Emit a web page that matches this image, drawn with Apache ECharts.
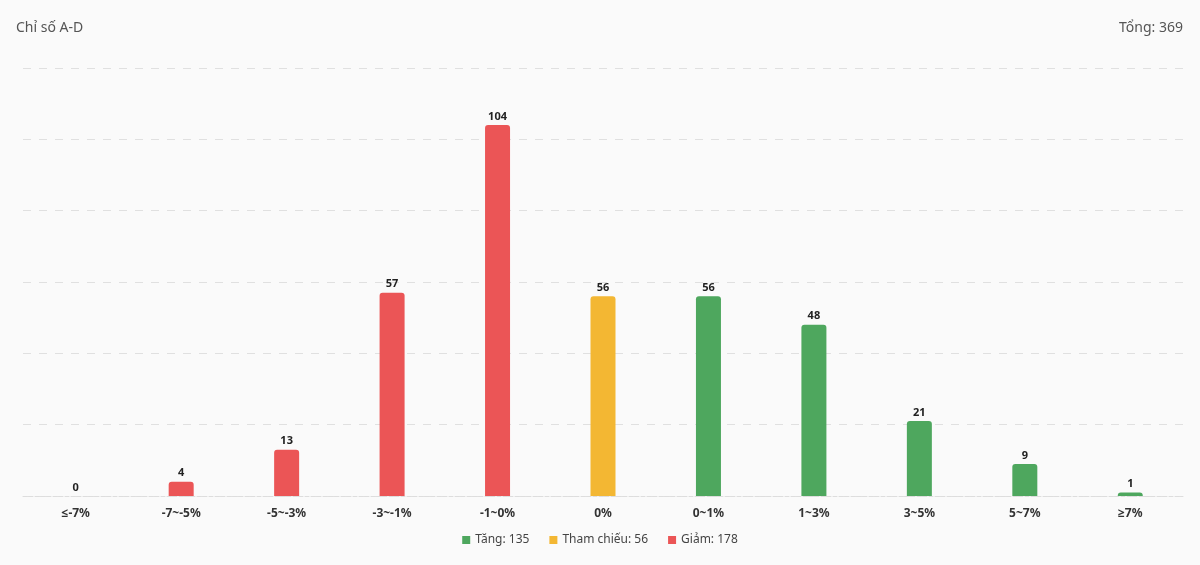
<!DOCTYPE html>
<html>
<head>
<meta charset="utf-8">
<script src="https://cdn.jsdelivr.net/npm/echarts@6/dist/echarts.min.js"></script>
<style>
html,body{margin:0;padding:0;background:#fafafa;}
#c{width:1200px;height:565px;}
</style>
</head>
<body>
<div id="c"></div>
<script>
const categories = ['≤-7%', '-7~-5%', '-5~-3%', '-3~-1%', '-1~0%', '0%', '0~1%', '1~3%', '3~5%', '5~7%', '≥7%'];
const giamValues = [0, 4, 13, 57, 104, null, null, null, null, null, null];
const thamChieuValues = [null, null, null, null, null, 56, null, null, null, null, null];
const tangValues = [null, null, null, null, null, null, 56, 48, 21, 9, 1];
const yTicks = [0, 20, 40, 60, 80, 100, 120];

const sum = a => a.reduce((s, v) => s + (v || 0), 0);
const tangName = 'Tăng: ' + sum(tangValues);
const tcName = 'Tham chiếu: ' + sum(thamChieuValues);
const giamName = 'Giảm: ' + sum(giamValues);
const total = sum(tangValues) + sum(thamChieuValues) + sum(giamValues);

const FONT = '"Noto Sans", "Open Sans", sans-serif';
const colors = { tang: '#4ea75e', tc: '#f3b733', giam: '#eb5556' };

function mkSeries(name, data, color) {
  return {
    name: name, type: 'bar', stack: 'all', data: data, barWidth: 25,
    itemStyle: { color: color, borderRadius: [3, 3, 0, 0] },
    label: { show: true, position: 'top', color: '#222', fontWeight: 'bold', fontSize: 11, fontFamily: FONT, distance: 3 }
  };
}

const chart = echarts.init(document.getElementById('c'), null, { renderer: 'canvas' });
chart.setOption({
  backgroundColor: '#fafafa',
  animation: false,
  textStyle: { fontFamily: FONT },
  title: [
    { text: 'Chỉ số A-D', left: 11, top: 16, textStyle: { fontSize: 14, fontWeight: 'normal', color: '#555', fontFamily: FONT } },
    { text: 'Tổng: ' + total, right: 12, top: 16, textStyle: { fontSize: 14, fontWeight: 'normal', color: '#555', fontFamily: FONT } }
  ],
  legend: {
    bottom: 14, left: 'center', itemWidth: 8, itemHeight: 8, itemGap: 20, icon: 'rect',
    textStyle: { fontSize: 12, color: '#444', fontFamily: FONT },
    data: [tangName, tcName, giamName]
  },
  grid: { left: 23, right: 17, top: 68, bottom: 69 },
  xAxis: {
    type: 'category', data: categories,
    axisLine: { show: true, lineStyle: { color: '#ddd', type: 'dashed' } },
    axisTick: { show: false },
    axisLabel: { color: '#333', fontSize: 12, fontWeight: 'bold', fontFamily: FONT, margin: 12 }
  },
  yAxis: {
    type: 'value', min: yTicks[0], max: yTicks[yTicks.length - 1], interval: yTicks[1] - yTicks[0],
    axisLabel: { show: false }, axisLine: { show: false }, axisTick: { show: false },
    splitLine: { show: true, lineStyle: { color: '#e0e0e0', type: [8, 8] } }
  },
  series: [
    mkSeries(tangName, tangValues, colors.tang),
    mkSeries(tcName, thamChieuValues, colors.tc),
    mkSeries(giamName, giamValues, colors.giam)
  ]
});
</script>
</body>
</html>
